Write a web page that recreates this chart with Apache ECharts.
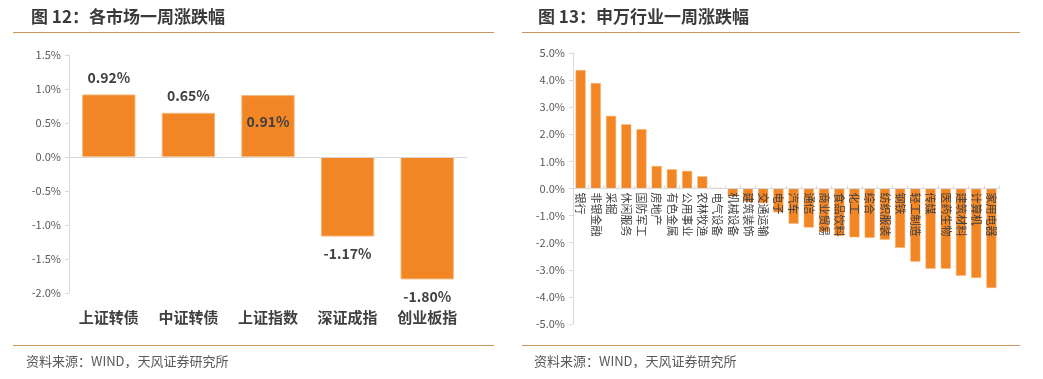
<!DOCTYPE html>
<html>
<head>
<meta charset="utf-8">
<script src="https://cdn.jsdelivr.net/npm/echarts@6/dist/echarts.min.js"></script>
<style>html,body{margin:0;padding:0;background:#fff}#c{width:1043px;height:379px}</style>
</head>
<body>
<div id="c"></div>
<script>
var marketCats = ['上证转债', '中证转债', '上证指数', '深证成指', '创业板指'];
var marketVals = [0.92, 0.65, 0.91, -1.17, -1.80];
var marketLabelPos = ['top', 'top', 'insideTop', 'bottom', 'bottom'];

var industryCats = ['银行', '非银金融', '采掘', '休闲服务', '国防军工', '房地产', '有色金属', '公用事业', '农林牧渔', '电气设备',
  '机械设备', '建筑装饰', '交通运输', '电子', '汽车', '通信', '商业贸易', '食品饮料', '化工', '综合',
  '纺织服装', '钢铁', '轻工制造', '传媒', '医药生物', '建筑材料', '计算机', '家用电器'];
var industryVals = [4.37, 3.89, 2.68, 2.37, 2.19, 0.83, 0.71, 0.65, 0.45, 0.02,
  -0.29, -0.49, -0.54, -0.88, -1.30, -1.44, -1.60, -1.75, -1.80, -1.82,
  -1.89, -2.19, -2.70, -2.96, -2.96, -3.22, -3.30, -3.67];

var titles = ['图 12：各市场一周涨跌幅', '图 13：申万行业一周涨跌幅'];
var source = '资料来源：WIND，天风证券研究所';

var FONT = '"Noto Sans CJK SC", "Noto Sans", sans-serif';
var BAR = '#F28524';
var chart = echarts.init(document.getElementById('c'));

function pct(v) { return v.toFixed(1) + '%'; }

var rightGrid = { left: 573, top: 53, width: 426, height: 271 };
var rightMin = -5, rightMax = 5;
// place the category axis on the zero line of the value axis
var zeroOffset = -rightGrid.height * (0 - rightMin) / (rightMax - rightMin);

chart.setOption({
  animation: false,
  textStyle: { fontFamily: FONT },
  title: [
    { text: titles[0], left: 26, top: 3, textStyle: { fontSize: 17, fontWeight: 'bold', color: '#3a3a3a', fontFamily: FONT } },
    { text: titles[1], left: 533, top: 3, textStyle: { fontSize: 17, fontWeight: 'bold', color: '#3a3a3a', fontFamily: FONT } }
  ],
  graphic: [
    { type: 'line', shape: { x1: 13, y1: 32.5, x2: 494, y2: 32.5 }, style: { stroke: '#C8955A', lineWidth: 1.2 } },
    { type: 'line', shape: { x1: 522, y1: 32.5, x2: 1020, y2: 32.5 }, style: { stroke: '#C8955A', lineWidth: 1.2 } },
    { type: 'line', shape: { x1: 13, y1: 345.5, x2: 494, y2: 345.5 }, style: { stroke: '#C8955A', lineWidth: 1.2 } },
    { type: 'line', shape: { x1: 522, y1: 345.5, x2: 1020, y2: 345.5 }, style: { stroke: '#C8955A', lineWidth: 1.2 } },
    { type: 'text', left: 26, top: 355, style: { text: source, fontSize: 13, fill: '#595959', fontFamily: FONT } },
    { type: 'text', left: 534, top: 355, style: { text: source, fontSize: 13, fill: '#595959', fontFamily: FONT } }
  ],
  grid: [
    { left: 69, top: 55, width: 398, height: 238 },
    rightGrid
  ],
  xAxis: [
    {
      gridIndex: 0, type: 'category', data: marketCats, position: 'bottom',
      axisLine: { show: false, onZero: false }, axisTick: { show: false },
      axisLabel: { fontSize: 15, fontWeight: 'bold', color: '#404040', margin: 17, fontFamily: FONT }
    },
    {
      gridIndex: 1, type: 'category', data: industryCats, z: 10, position: 'bottom', offset: zeroOffset,
      axisLine: { show: true, onZero: false, lineStyle: { color: '#d9d9d9' } },
      axisTick: { show: true, inside: true, length: 3, lineStyle: { color: '#d9d9d9' } },
      axisLabel: { rotate: -90, fontSize: 11, color: '#404040', margin: 4, interval: 0, fontFamily: FONT }
    }
  ],
  yAxis: [
    {
      gridIndex: 0, type: 'value', min: -2, max: 1.5, interval: 0.5,
      axisLine: { show: true, lineStyle: { color: '#d9d9d9' } },
      axisTick: { show: true, length: 4, lineStyle: { color: '#d9d9d9' } },
      splitLine: { show: false },
      axisLabel: { formatter: pct, fontSize: 11, color: '#595959', margin: 8 }
    },
    {
      gridIndex: 1, type: 'value', min: rightMin, max: rightMax, interval: 1,
      axisLine: { show: true, lineStyle: { color: '#d9d9d9' } },
      axisTick: { show: true, length: 4, lineStyle: { color: '#d9d9d9' } },
      splitLine: { show: false },
      axisLabel: { formatter: pct, fontSize: 11, color: '#595959', margin: 8 }
    }
  ],
  series: [
    {
      type: 'bar', xAxisIndex: 0, yAxisIndex: 0, barWidth: '67%',
      itemStyle: { color: BAR, borderColor: '#F8B77C', borderWidth: 1 },
      data: marketVals.map(function (v, i) {
        return { value: v, label: { position: marketLabelPos[i], distance: marketLabelPos[i] === 'insideTop' ? 20 : 10 } };
      }),
      label: {
        show: true, fontSize: 14, fontWeight: 'bold', color: '#404040', fontFamily: FONT,
        formatter: function (p) { return p.value.toFixed(2) + '%'; }
      },
      markLine: {
        silent: true, symbol: 'none', label: { show: false },
        lineStyle: { color: '#d9d9d9', type: 'solid', width: 1 },
        data: [{ yAxis: 0 }]
      }
    },
    {
      type: 'bar', xAxisIndex: 1, yAxisIndex: 1, barWidth: '66%',
      itemStyle: { color: BAR, borderColor: '#F8B77C', borderWidth: 0.5 },
      data: industryVals
    }
  ]
});
</script>
</body>
</html>
